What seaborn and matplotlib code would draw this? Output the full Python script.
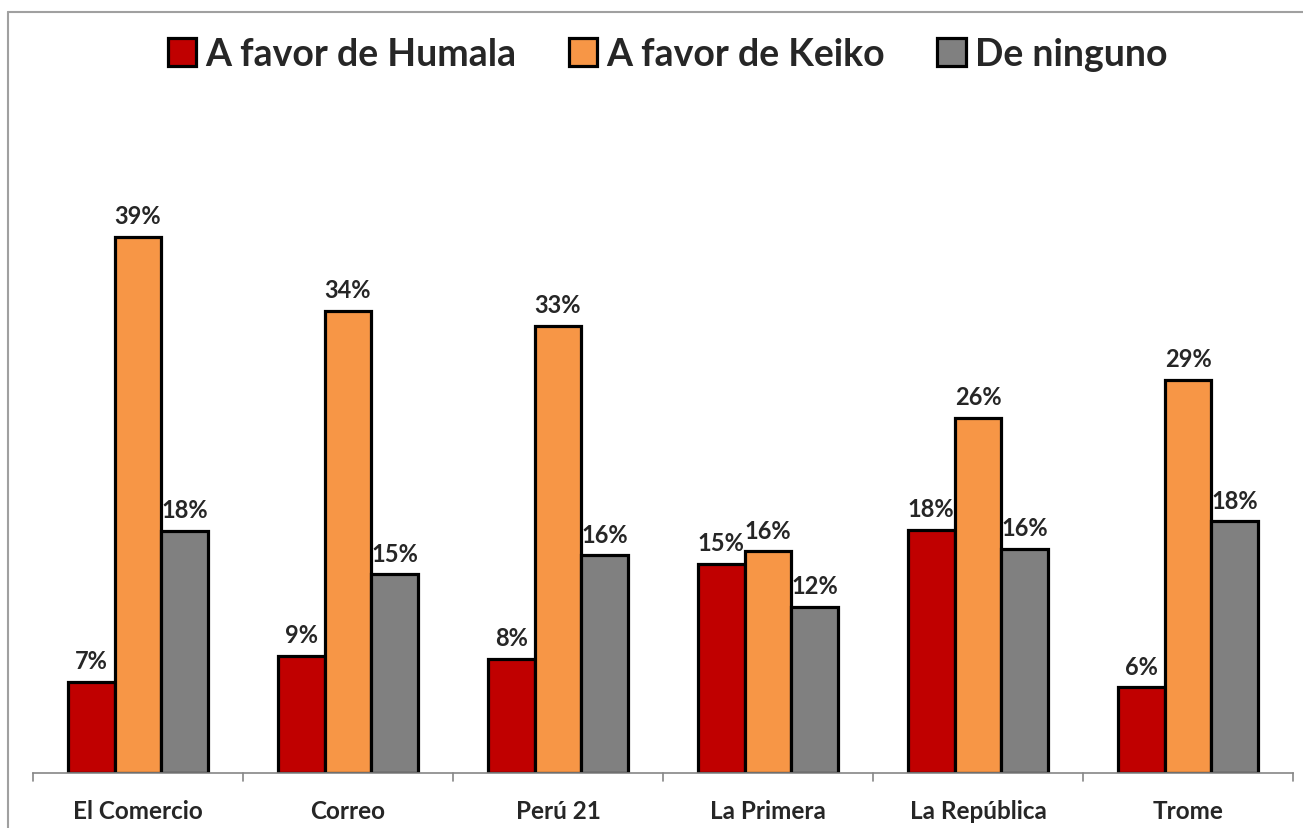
import matplotlib
matplotlib.use('Agg')
import matplotlib.pyplot as plt
import seaborn as sns
import pandas as pd
from matplotlib.patches import Patch
from matplotlib.lines import Line2D

diarios = ["El Comercio", "Correo", "Perú 21", "La Primera", "La República", "Trome"]
series = ["A favor de Humala", "A favor de Keiko", "De ninguno"]
humala = [6.7, 8.6, 8.4, 15.4, 17.9, 6.3]
keiko = [39.4, 34.0, 32.9, 16.3, 26.1, 28.9]
ninguno = [17.8, 14.6, 16.0, 12.2, 16.5, 18.5]
colores = ["#C00000", "#F79646", "#808080"]

df = pd.DataFrame({
    "diario": diarios * 3,
    "serie": [s for s in series for _ in diarios],
    "valor": humala + keiko + ninguno,
})

sns.set_style("white")
plt.rcParams['font.family'] = ['Lato', 'DejaVu Sans']

fig = plt.figure(figsize=(13.03, 8.29), dpi=100)
ax = fig.add_axes([33 / 1303, 1 - 774 / 829, (1293 - 33) / 1303, (774 - 130) / 829])

sns.barplot(data=df, x="diario", y="valor", hue="serie", order=diarios,
            hue_order=series, palette=colores, width=0.67, edgecolor="black",
            linewidth=2.3, saturation=1, ax=ax, legend=False)

for cont in ax.containers:
    ax.bar_label(cont, labels=[f"{v:.0f}%" for v in cont.datavalues], padding=7,
                 fontsize=17, fontweight="bold")

ax.set_ylim(0, 47.35)
ax.set_xlim(-0.5, len(diarios) - 0.5)
ax.set_xlabel("")
ax.set_ylabel("")
ax.set_yticks([])
for s in ["top", "right", "left"]:
    ax.spines[s].set_visible(False)
ax.spines["bottom"].set_color("#868686")
ax.spines["bottom"].set_linewidth(1.2)
ax.set_xticks(range(len(diarios)))
ax.set_xticklabels(diarios, fontsize=17.5, fontweight="bold")
ax.tick_params(axis="x", length=0, pad=19)
# tick marks between groups
for i in range(len(diarios) + 1):
    ax.plot([i - 0.5, i - 0.5], [0, -0.6], color="#868686", lw=1.2, clip_on=False)

handles = [Patch(facecolor=c, edgecolor="black", linewidth=2.3) for c in colores]
fig.legend(handles, series, loc="center", bbox_to_anchor=(0.5 + 16 / 1303, 1 - 55 / 829), ncol=3,
           frameon=False, prop={"size": 27, "weight": "bold"}, handlelength=0.75,
           handleheight=0.8, handletextpad=0.25, columnspacing=1.4)

# outer frame
fig.add_artist(Line2D([8 / 1303, 1], [1 - 13 / 829] * 2, color="#A0A0A0", lw=1.5))
fig.add_artist(Line2D([8 / 1303] * 2, [0, 1 - 13 / 829], color="#A0A0A0", lw=1.5))

fig.savefig("out.png", dpi=100)
